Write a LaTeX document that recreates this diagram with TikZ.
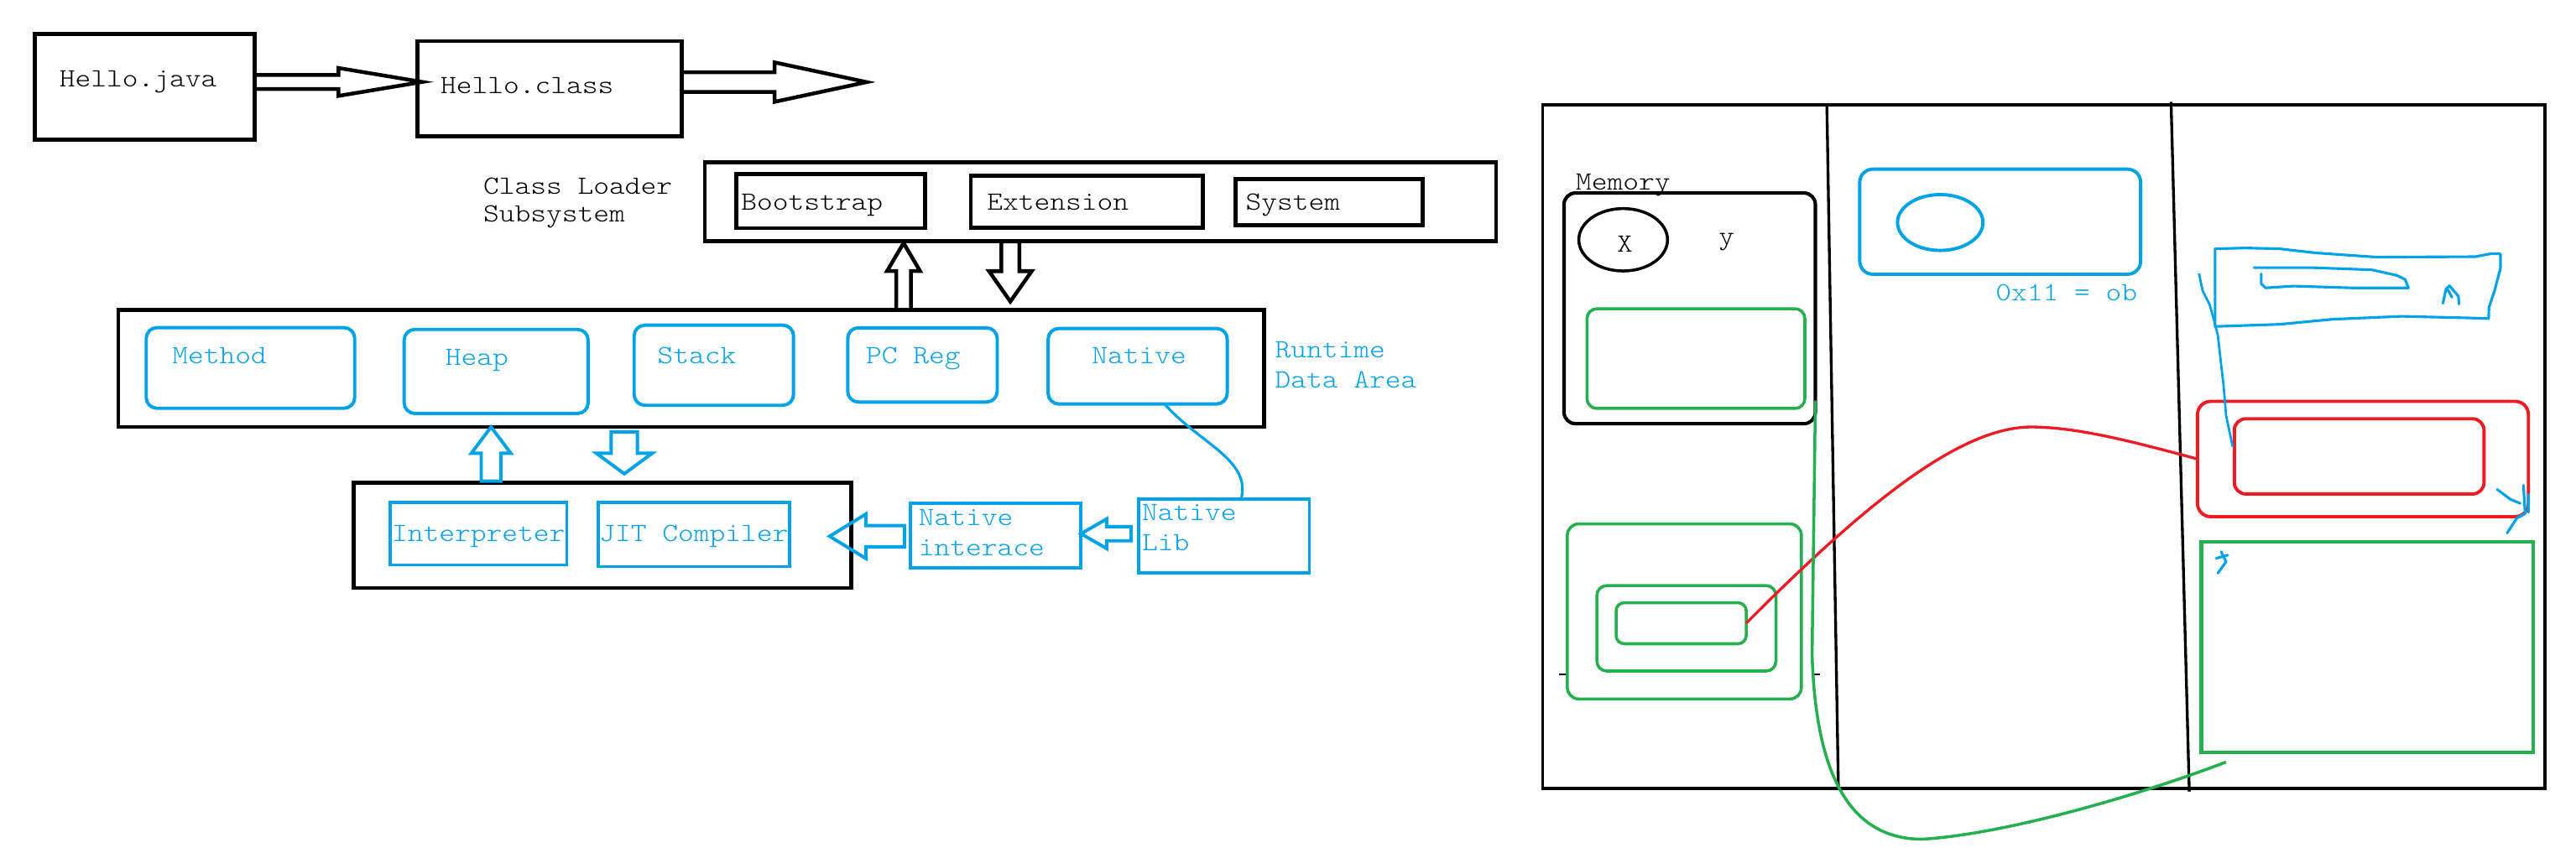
\documentclass[tikz,border=0pt]{standalone}
\usepackage{fontspec}
\newfontfamily\codefont[FakeStretch=1.14]{lmmonolt10-regular.otf}
\usetikzlibrary{calc,fit,shapes.geometric}
\definecolor{pblue}{RGB}{0,162,232}
\definecolor{pgreen}{RGB}{34,177,76}
\definecolor{pred}{RGB}{237,28,36}
% style, from, to, shaft half width, head half width, head length
\newcommand\hollowarrow[6]{%
  \coordinate (hab) at ($(#3)!#6!(#2)$);
  \draw[#1] ($(#2)!#4!90:(#3)$) -- ($(hab)!#4!90:(#3)$) -- ($(hab)!#5!90:(#3)$) -- (#3)
    -- ($(hab)!#5!-90:(#3)$) -- ($(hab)!#4!-90:(#3)$) -- ($(#2)!#4!-90:(#3)$) -- cycle;
}
\begin{document}
\begin{tikzpicture}[x=1pt,y=-1pt,
  bbox/.style={draw=black, line width=2.4pt, inner sep=0pt, outer sep=0pt},
  rbbox/.style={bbox, line width=2.1pt, rounded corners=7pt},
  bluebox/.style={draw=pblue, line width=2pt, inner sep=0pt, outer sep=0pt},
  bluerbox/.style={bluebox, rounded corners=6.5pt},
  greenrbox/.style={draw=pgreen, line width=1.8pt, inner sep=0pt, outer sep=0pt, rounded corners=6pt},
  redrbox/.style={draw=pred, line width=2pt, inner sep=0pt, outer sep=0pt, rounded corners=7pt},
  txt/.style={font=\codefont\fontsize{16}{19}\selectfont, inner sep=0pt, anchor=mid west},
  btxt/.style={txt, text=pblue},
  harrow/.style={draw=black, line width=2.3pt, line join=miter},
  barrow/.style={draw=pblue, line width=2pt, line join=miter},
  scribble/.style={draw=pblue, line width=1.6pt, line join=round, line cap=round}
]
\fill[white] (0,0) rectangle (1568,516);
\useasboundingbox (0,0) rectangle (1568,516);

% ---------- top row ----------
\node[bbox, fit={(21.3,20.8)(155,85)}] (java) {};
\node[txt] (javat) at (36,50.5) {Hello.java};
\node[bbox, fit={(254,25)(415,83)}] (class) {};
\node[txt] (classt) at (268,55) {Hello.class};
\coordinate (a1s) at ($(java.east)+(0,-3)$);
\coordinate (a1e) at ($(class.west |- a1s)+(3,0)$);
\hollowarrow{harrow}{a1s}{a1e}{4.3pt}{8.5pt}{51pt}
\coordinate (a2s) at ($(class.east)+(0,-4)$);
\coordinate (a2e) at ($(a2s)+(112.5,0)$);
\hollowarrow{harrow}{a2s}{a2e}{6pt}{12pt}{56pt}

% ---------- class loader ----------
\node[txt] (cl1) at (294,116) {Class Loader};
\node[txt] (cl2) at (294,133) {Subsystem};
\node[bbox, fit={(429,99)(910.6,147)}] (cls) {};
\node[bbox, fit={(448,106)(563,139)}] (boot) {};
\node[txt] (boott) at (451,126) {Bootstrap};
\node[bbox, fit={(591,107)(732,138.5)}] (ext) {};
\node[txt] (extt) at (600.6,126) {Extension};
\node[bbox, fit={(752,109)(866,137)}] (sys) {};
\node[txt] (syst) at (758,126) {System};

% ---------- runtime data area ----------
\node[bbox, fit={(72,188.6)(769.6,260)}] (rda) {};
\node[bluerbox, fit={(89,199.5)(215.9,248.6)}] (method) {};
\node[btxt] (methodt) at (104.7,219.4) {Method};
\node[bluerbox, fit={(246,200.6)(358,251.8)}] (heap) {};
\node[btxt] (heapt) at (271,220.5) {Heap};
\node[bluerbox, fit={(386,198)(483,246.8)}] (stack) {};
\node[btxt] (stackt) at (400,219) {Stack};
\node[bluerbox, fit={(516,199.6)(607,244.8)}] (pcreg) {};
\node[btxt] (pcregt) at (527,219) {PC Reg};
\node[bluerbox, fit={(638,200)(747,246)}] (native) {};
\node[btxt] (nativet) at (664.5,219) {Native};
\node[btxt] (rt1) at (776,215.5) {Runtime};
\node[btxt] (rt2) at (776,234) {Data Area};

% class loader <-> runtime arrows
\coordinate (ux) at (550,0);
\coordinate (dx) at (615,0);
\coordinate (u1s) at (rda.north -| ux);
\coordinate (u1e) at ($(cls.south -| ux)+(0,1)$);
\hollowarrow{harrow}{u1s}{u1e}{4.5pt}{10pt}{17pt}
\coordinate (d1s) at (cls.south -| dx);
\coordinate (d1e) at ($(rda.north -| dx)+(0,-5)$);
\hollowarrow{harrow}{d1s}{d1e}{5.5pt}{13pt}{18.5pt}

% ---------- execution engine ----------
\node[bbox, fit={(215.3,294)(518,358)}] (exec) {};
\node[bluebox, fit={(237.6,306)(345,344)}] (interp) {};
\node[btxt, anchor=mid] (interpt) at (291.3,327.7) {Interpreter};
\node[bluebox, fit={(364,305.8)(480.6,345)}] (jit) {};
\node[btxt, anchor=mid] (jitt) at (422.3,327.7) {JIT Compiler};
\node[bluebox, fit={(554,306.5)(658,345.8)}] (nint) {};
\node[btxt] (nint1) at (559,318) {Native};
\node[btxt] (nint2) at (559,336) {interace};
\node[bluebox, fit={(693,304)(797,349)}] (nlib) {};
\node[btxt] (nlib1) at (695,314.6) {Native};
\node[btxt] (nlib2) at (695,333) {Lib};

% exec <-> runtime arrows
\coordinate (bux) at (298.9,0);
\coordinate (bdx) at (380,0);
\coordinate (b1s) at ($(exec.north -| bux)+(0,-1)$);
\coordinate (b1e) at (rda.south -| bux);
\hollowarrow{barrow}{b1s}{b1e}{6pt}{12pt}{16pt}
\coordinate (b2s) at ($(rda.south -| bdx)+(0,3)$);
\coordinate (b2e) at ($(exec.north -| bdx)+(0,-5.5)$);
\hollowarrow{barrow}{b2s}{b2e}{8pt}{17pt}{12.5pt}
% native interface -> exec
\coordinate (l1s) at ($(nint.west)+(-3.5,0.4)$);
\coordinate (l1e) at ($(exec.east |- l1s)+(-13,0)$);
\hollowarrow{barrow}{l1s}{l1e}{6.5pt}{13.5pt}{22pt}
% native lib -> native interface
\coordinate (l2s) at ($(nlib.west)+(-4.5,-1.5)$);
\coordinate (l2e) at (nint.east |- l2s);
\hollowarrow{barrow}{l2s}{l2e}{4.3pt}{9pt}{15.6pt}
% native method area -> native lib
\draw[pblue, line width=1.6pt] ($(native.south west)!0.65!(native.south east)$)
  .. controls (730,270) and (762,280) .. ($(nlib.north west)!0.6!(nlib.north east)$);

% ---------- right panel ----------
\node[draw, line width=2pt, inner sep=0pt, fit={(939,64)(1549,480)}] (panel) {};
\draw[line width=1.7pt] (1112,64) -- (1119,480);
\draw[line width=1.7pt] (1321.5,62) -- (1332.6,482);
\draw[line width=1pt] (949,410.6) -- (953,410.6) (1104,410.6) -- (1108,410.6);

% stack column
\node[txt] (memt) at (959,113.6) {Memory};
\node[rbbox, fit={(952,117.5)(1105,258)}] (mem) {};
\node[ellipse, draw, line width=1.8pt, minimum width=54pt, minimum height=38pt, inner sep=0pt] (xcirc) at (988,146) {};
\node[txt, anchor=base] (xt) at (989,153.6) {X};
\node[txt, anchor=base] (yt) at (1051,148.7) {y};
\node[greenrbox, fit={(966,188)(1098.6,248.7)}] (gmem) {};
\node[greenrbox, rounded corners=7pt, fit={(954,319)(1096.5,425.6)}] (gouter) {};
\node[greenrbox, fit={(972,356.6)(1081,408.6)}] (gmid) {};
\node[greenrbox, rounded corners=5pt, fit={(983.7,367)(1062.9,392)}] (ginner) {};

% middle column
\node[bluerbox, rounded corners=8pt, fit={(1132,103)(1303,167)}] (obj) {};
\node[ellipse, draw=pblue, line width=2pt, minimum width=52pt, minimum height=34pt, inner sep=0pt] (objc) at (1181,135.5) {};
\node[btxt] (addr) at (1214.5,181) {0x11 = ob};

% right column
\node[redrbox, rounded corners=8pt, fit={(1337.6,244.4)(1539,314.6)}] (redo) {};
\node[redrbox, fit={(1360,255)(1512,300.8)}] (redi) {};
\node[draw=pgreen, line width=2.2pt, inner sep=0pt, fit={(1340,330)(1542,458)}] (gright) {};

% scribbles
\draw[scribble] (1348.3,151.5) -- (1367,151) -- (1387.5,151.5) -- (1409.6,154) -- (1447,156.6) -- (1506.6,156.3)
  -- (1516.8,154.4) -- (1522,154.6) -- (1522,163.4) -- (1518.4,177) -- (1515,187.3) -- (1514.8,194)
  -- (1503,193.6) -- (1462,192.6) -- (1420,194.4) -- (1387.5,197.5) -- (1348.3,198.8) -- cycle;
\draw[scribble] (1372,163) -- (1408,163) -- (1443.6,164.3) -- (1459,167.7) -- (1464,170.2) -- (1466,175.3)
  -- (1431.7,175.3) -- (1396,174.2) -- (1379,175.3) -- (1376.4,172.8) -- (1376.4,166.8);
\draw[scribble] (1487,184.7) -- (1488.8,176.2) -- (1491,174) -- (1496.4,180.4) -- (1496.8,185.2)
  (1490,176.5) -- (1492.5,181);
\draw[draw=pblue, line width=1.4pt, line join=round] (1338.5,166.5) -- (1340.7,177) -- (1345,185.6) -- (1347.4,194)
  -- (1350,204.3) -- (1351.7,219.6) -- (1353.4,234) -- (1355,253) -- (1359,272);
\draw[scribble] (1520,298) -- (1528,304) -- (1534,306.5) (1536,295.5) -- (1537,312.8) -- (1532,315.5) -- (1526,324.6)
  (1539,301) -- (1539,312);
\draw[scribble] (1352,336) -- (1355,342) -- (1350,349) (1349,340) -- (1356,338);

% references
\draw[pred, line width=1.7pt] (ginner.east) .. controls (1138,304) and (1195,259) .. (1238,260)
  .. controls (1265,260.5) and (1295,268) .. (redo.west);
\draw[pgreen, line width=1.8pt] (1105,244) -- (1103,398) .. controls (1105,470) and (1125,511) .. (1170,511)
  .. controls (1220,508) and (1300,485) .. (1355,464);
\end{tikzpicture}
\end{document}
